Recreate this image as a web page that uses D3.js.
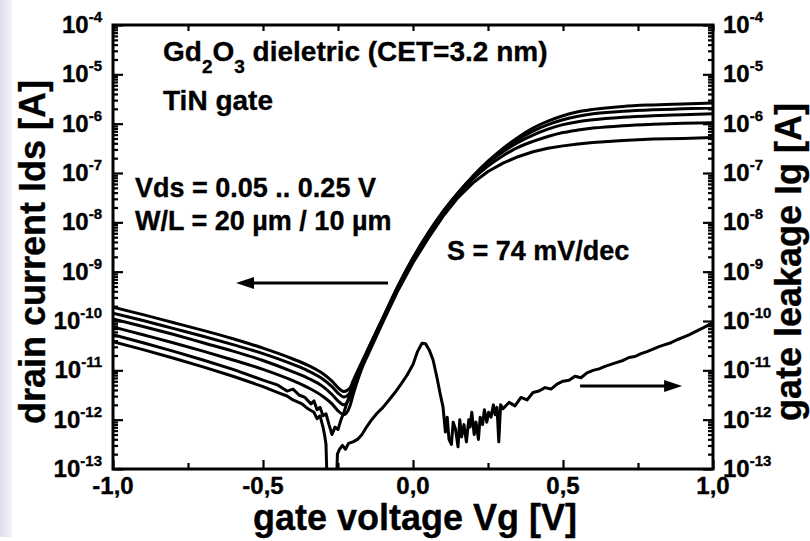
<!DOCTYPE html>
<html><head><meta charset="utf-8">
<script src="https://cdn.jsdelivr.net/npm/d3@7"></script>
<style>
body{margin:0;background:#fff}
svg{display:block}
text{font-family:"Liberation Sans",Arial,sans-serif;font-weight:bold;fill:#000;stroke:#000;stroke-width:0.35px}
</style>
</head><body>
<svg id="chart" width="810" height="541"></svg>
<script>
// ---------------- data ----------------
const xTickValues = [-1.0, -0.5, 0.0, 0.5, 1.0];
const xTickLabels = ["-1,0", "-0,5", "0,0", "0,5", "1,0"];
const xMinorTicks = [-0.75, -0.25, 0.25, 0.75];
const yDecadeExponents = [-4, -5, -6, -7, -8, -9, -10, -11, -12, -13];

// gate voltage grid (V) shared by the Vds = 0.25 ... 0.10 V curves
const vgGrid = [-1.0,-0.9,-0.8,-0.7,-0.6,-0.5,-0.4,-0.35,-0.3,-0.27,-0.25,-0.23,-0.21,-0.2,-0.15,-0.1,-0.05,0,0.05,0.1,0.15,0.2,0.25,0.3,0.35,0.4,0.45,0.5,0.55,0.6,0.7,0.8,0.9,1.0];
// drain current, log10(Ids / A)
const idsVds025 = [-9.72,-9.87,-10.03,-10.19,-10.36,-10.55,-10.77,-10.90,-11.07,-11.22,-11.35,-11.43,-11.36,-11.22,-10.57,-9.93,-9.29,-8.72,-8.22,-7.78,-7.40,-7.06,-6.76,-6.50,-6.28,-6.09,-5.95,-5.84,-5.76,-5.71,-5.65,-5.62,-5.60,-5.58];
const idsVds020 = [-9.84,-9.99,-10.15,-10.31,-10.48,-10.66,-10.88,-11.01,-11.18,-11.33,-11.46,-11.54,-11.45,-11.30,-10.58,-9.94,-9.30,-8.73,-8.23,-7.79,-7.41,-7.07,-6.78,-6.53,-6.32,-6.15,-6.02,-5.92,-5.85,-5.80,-5.75,-5.72,-5.70,-5.68];
const idsVds015 = [-9.96,-10.11,-10.27,-10.44,-10.61,-10.80,-11.03,-11.16,-11.33,-11.49,-11.62,-11.70,-11.55,-11.38,-10.60,-9.95,-9.31,-8.74,-8.24,-7.80,-7.42,-7.08,-6.80,-6.57,-6.38,-6.23,-6.11,-6.02,-5.96,-5.92,-5.87,-5.84,-5.82,-5.80];
const idsVds010 = [-10.12,-10.28,-10.44,-10.61,-10.79,-10.98,-11.21,-11.35,-11.53,-11.68,-11.82,-11.90,-11.72,-11.50,-10.63,-9.97,-9.33,-8.76,-8.27,-7.83,-7.44,-7.12,-6.86,-6.65,-6.48,-6.36,-6.26,-6.18,-6.13,-6.09,-6.04,-6.01,-5.99,-5.98];

// Vds = 0.05 V curve (noisier near the minimum)
const vgVds005 = [-1.0,-0.9,-0.8,-0.7,-0.6,-0.5,-0.45,-0.42,-0.4,-0.38,-0.36,-0.34,-0.33,-0.32,-0.31,-0.3,-0.29,-0.28,-0.27,-0.26,-0.25,-0.24,-0.23,-0.22,-0.21,-0.2,-0.15,-0.1,-0.05,0,0.05,0.1,0.15,0.2,0.25,0.3,0.35,0.4,0.45,0.5,0.55,0.6,0.7,0.8,0.9,1.0];
const idsVds005 = [-10.28,-10.44,-10.61,-10.79,-10.98,-11.2,-11.3,-11.42,-11.38,-11.5,-11.55,-11.68,-11.62,-11.8,-11.75,-11.92,-11.88,-12.1,-12.3,-12.15,-12.2,-12.0,-11.85,-11.65,-11.48,-11.32,-10.68,-10.02,-9.38,-8.82,-8.33,-7.88,-7.50,-7.20,-6.97,-6.80,-6.67,-6.57,-6.50,-6.45,-6.41,-6.38,-6.34,-6.31,-6.30,-6.28];

// gate leakage, log10(|Ig| / A)
const vgGate = [-1.0,-0.9,-0.8,-0.7,-0.6,-0.5,-0.45,-0.42,-0.4,-0.37,-0.35,-0.33,-0.32,-0.31,-0.3,-0.295,-0.29,-0.283,-0.258,-0.252,-0.245,-0.235,-0.225,-0.215,-0.2,-0.185,-0.17,-0.155,-0.14,-0.12,-0.1,-0.08,-0.06,-0.04,-0.02,0.0,0.015,0.03,0.042,0.055,0.067,0.08,0.09,0.1,
  0.108,0.114,0.12,0.128,0.134,0.142,0.15,0.156,0.162,0.17,0.178,0.186,0.19,0.196,0.204,0.21,0.218,0.224,0.232,0.238,0.246,0.252,0.26,0.268,0.274,0.28,0.286,0.292,
  0.3,0.32,0.34,0.36,0.38,0.4,0.42,0.44,0.46,0.48,0.5,0.52,0.54,0.56,0.58,0.6,0.62,0.64,0.66,0.68,0.7,0.72,0.74,0.76,0.78,0.8,0.82,0.84,0.86,0.88,0.9,0.92,0.94,0.96,0.98,1.0];
const igGate = [-10.42,-10.58,-10.75,-10.93,-11.12,-11.33,-11.45,-11.52,-11.6,-11.68,-11.78,-11.85,-11.98,-11.92,-12.15,-12.3,-12.5,-14,-14,-12.7,-12.6,-12.52,-12.6,-12.48,-12.45,-12.4,-12.3,-12.15,-12.02,-11.87,-11.75,-11.6,-11.45,-11.28,-11.1,-10.88,-10.62,-10.45,-10.46,-10.6,-10.79,-11.15,-11.46,-11.74,
  -12.25,-11.95,-12.4,-12.5,-12.05,-12.2,-12.55,-12.0,-12.35,-12.1,-12.45,-12.0,-12.15,-11.85,-12.3,-12.05,-12.4,-11.95,-12.1,-11.8,-12.05,-11.85,-11.95,-11.7,-11.9,-11.75,-12.45,-11.7,
  -11.78,-11.65,-11.72,-11.55,-11.6,-11.45,-11.42,-11.35,-11.38,-11.28,-11.22,-11.2,-11.12,-11.15,-11.05,-11.0,-10.97,-10.92,-10.88,-10.84,-10.80,-10.74,-10.72,-10.66,-10.62,-10.57,-10.52,-10.48,-10.44,-10.38,-10.33,-10.28,-10.22,-10.16,-10.1,-10.04];

// ---------------- chart ----------------
const svg = d3.select("#chart");
const m = {left: 113, right: 713, top: 25, bottom: 469};

const x = d3.scaleLinear().domain([-1, 1]).range([m.left, m.right]);
const y = d3.scaleLog().domain([1e-13, 1e-4]).range([m.bottom, m.top]);

// left lavender strip
const defs = svg.append("defs");
const grad = defs.append("linearGradient").attr("id", "strip").attr("x1", 0).attr("x2", 1).attr("y1", 0).attr("y2", 0);
grad.append("stop").attr("offset", 0).attr("stop-color", "#dcdcf0");
grad.append("stop").attr("offset", 1).attr("stop-color", "#f2f2fa");
svg.append("rect").attr("x", 0).attr("y", 0).attr("width", 12).attr("height", 537).attr("fill", "url(#strip)");

defs.append("clipPath").attr("id", "plotClip").append("rect")
  .attr("x", m.left).attr("y", m.top).attr("width", m.right - m.left).attr("height", m.bottom - m.top);

// minor log ticks
const minorY = [];
yDecadeExponents.slice(1).forEach(e => { for (let k = 2; k <= 9; k++) minorY.push(k * Math.pow(10, e)); });
const majorY = yDecadeExponents.map(e => Math.pow(10, e));

function styleAxis(g) {
  g.select(".domain").remove();
  g.selectAll("line").attr("stroke", "#000").attr("stroke-width", 2.2);
  g.selectAll("text").remove();
}

svg.append("g").attr("transform", `translate(0,${m.bottom})`)
  .call(d3.axisBottom(x).tickValues(xTickValues).tickSize(-9)).call(styleAxis);
svg.append("g").attr("transform", `translate(0,${m.bottom})`)
  .call(d3.axisBottom(x).tickValues(xMinorTicks).tickSize(-6)).call(styleAxis);
svg.append("g").attr("transform", `translate(0,${m.top})`)
  .call(d3.axisTop(x).tickValues(xTickValues.concat(xMinorTicks)).tickSize(-6)).call(styleAxis);

svg.append("g").attr("transform", `translate(${m.left},0)`)
  .call(d3.axisLeft(y).tickValues(majorY).tickSize(-10)).call(styleAxis);
svg.append("g").attr("transform", `translate(${m.left},0)`)
  .call(d3.axisLeft(y).tickValues(minorY).tickSize(-5)).call(styleAxis);
svg.append("g").attr("transform", `translate(${m.right},0)`)
  .call(d3.axisRight(y).tickValues(majorY).tickSize(-10)).call(styleAxis);
svg.append("g").attr("transform", `translate(${m.right},0)`)
  .call(d3.axisRight(y).tickValues(minorY).tickSize(-5)).call(styleAxis);

// curves
const plot = svg.append("g").attr("clip-path", "url(#plotClip)");
const lineSmooth = d3.line().x(d => x(d[0])).y(d => y(Math.pow(10, d[1]))).curve(d3.curveMonotoneX);
const lineRaw = d3.line().x(d => x(d[0])).y(d => y(Math.pow(10, d[1])));

[idsVds025, idsVds020, idsVds015, idsVds010].forEach(s => {
  plot.append("path").datum(vgGrid.map((v, i) => [v, s[i]]))
    .attr("d", lineSmooth).attr("fill", "none").attr("stroke", "#000").attr("stroke-width", 3).attr("stroke-linejoin", "round");
});
plot.append("path").datum(vgVds005.map((v, i) => [v, idsVds005[i]]))
  .attr("d", lineRaw).attr("fill", "none").attr("stroke", "#000").attr("stroke-width", 3).attr("stroke-linejoin", "round");
plot.append("path").datum(vgGate.map((v, i) => [v, igGate[i]]))
  .attr("d", lineRaw).attr("fill", "none").attr("stroke", "#000").attr("stroke-width", 3).attr("stroke-linejoin", "round");

// frame
svg.append("rect").attr("x", m.left).attr("y", m.top).attr("width", m.right - m.left).attr("height", m.bottom - m.top)
  .attr("fill", "none").attr("stroke", "#000").attr("stroke-width", 3);

// tick labels
yDecadeExponents.forEach(e => {
  const t = svg.append("text").attr("x", 102).attr("y", y(Math.pow(10, e)) + 8).attr("text-anchor", "end").attr("font-size", 24);
  t.append("tspan").text("10");
  t.append("tspan").attr("dy", -11).attr("font-size", 15).text(String(e));
  const r = svg.append("text").attr("x", 723).attr("y", y(Math.pow(10, e)) + 8).attr("text-anchor", "start").attr("font-size", 24);
  r.append("tspan").text("10");
  r.append("tspan").attr("dy", -11).attr("font-size", 15).text(String(e));
});
xTickValues.forEach((v, i) => {
  svg.append("text").attr("x", x(v)).attr("y", 494).attr("text-anchor", "middle").attr("font-size", 24).text(xTickLabels[i]);
});

// axis titles
svg.append("text").attr("x", 415).attr("y", 530).attr("text-anchor", "middle").attr("font-size", 36).text("gate voltage Vg [V]");
svg.append("text").attr("transform", "translate(45,252) rotate(-90)").attr("text-anchor", "middle").attr("font-size", 36).text("drain current Ids [A]");
svg.append("text").attr("transform", "translate(801,262) rotate(-90)").attr("text-anchor", "middle").attr("font-size", 36).text("gate leakage Ig [A]");

// annotations
const t1 = svg.append("text").attr("x", 163).attr("y", 61).attr("font-size", 28);
t1.append("tspan").text("Gd");
t1.append("tspan").attr("dy", 12).attr("font-size", 19).text("2");
t1.append("tspan").attr("dy", -12).text("O");
t1.append("tspan").attr("dy", 12).attr("font-size", 19).text("3");
t1.append("tspan").attr("dy", -12).text(" dieletric (CET=3.2 nm)");
svg.append("text").attr("x", 163).attr("y", 110).attr("font-size", 28).text("TiN gate");
svg.append("text").attr("x", 135).attr("y", 197).attr("font-size", 27).text("Vds = 0.05 .. 0.25 V");
svg.append("text").attr("x", 135).attr("y", 230).attr("font-size", 27).text("W/L = 20 µm / 10 µm");
svg.append("text").attr("x", 447).attr("y", 260).attr("font-size", 27).text("S = 74 mV/dec");

// arrows (in data coordinates)
function arrow(v0, l0, v1, l1) {
  const x0 = x(v0), y0 = y(Math.pow(10, l0)), x1 = x(v1), y1 = y(Math.pow(10, l1));
  const dir = Math.sign(x1 - x0);
  svg.append("line").attr("x1", x0).attr("y1", y0).attr("x2", x1 - dir * 10).attr("y2", y1)
    .attr("stroke", "#000").attr("stroke-width", 3);
  svg.append("path").attr("d", `M${x1},${y1} L${x1 - dir * 18},${y1 - 6} L${x1 - dir * 18},${y1 + 6} Z`).attr("fill", "#000");
}
arrow(-0.083, -9.23, -0.59, -9.23);
arrow(0.557, -11.32, 0.897, -11.32);
</script>
</body></html>
